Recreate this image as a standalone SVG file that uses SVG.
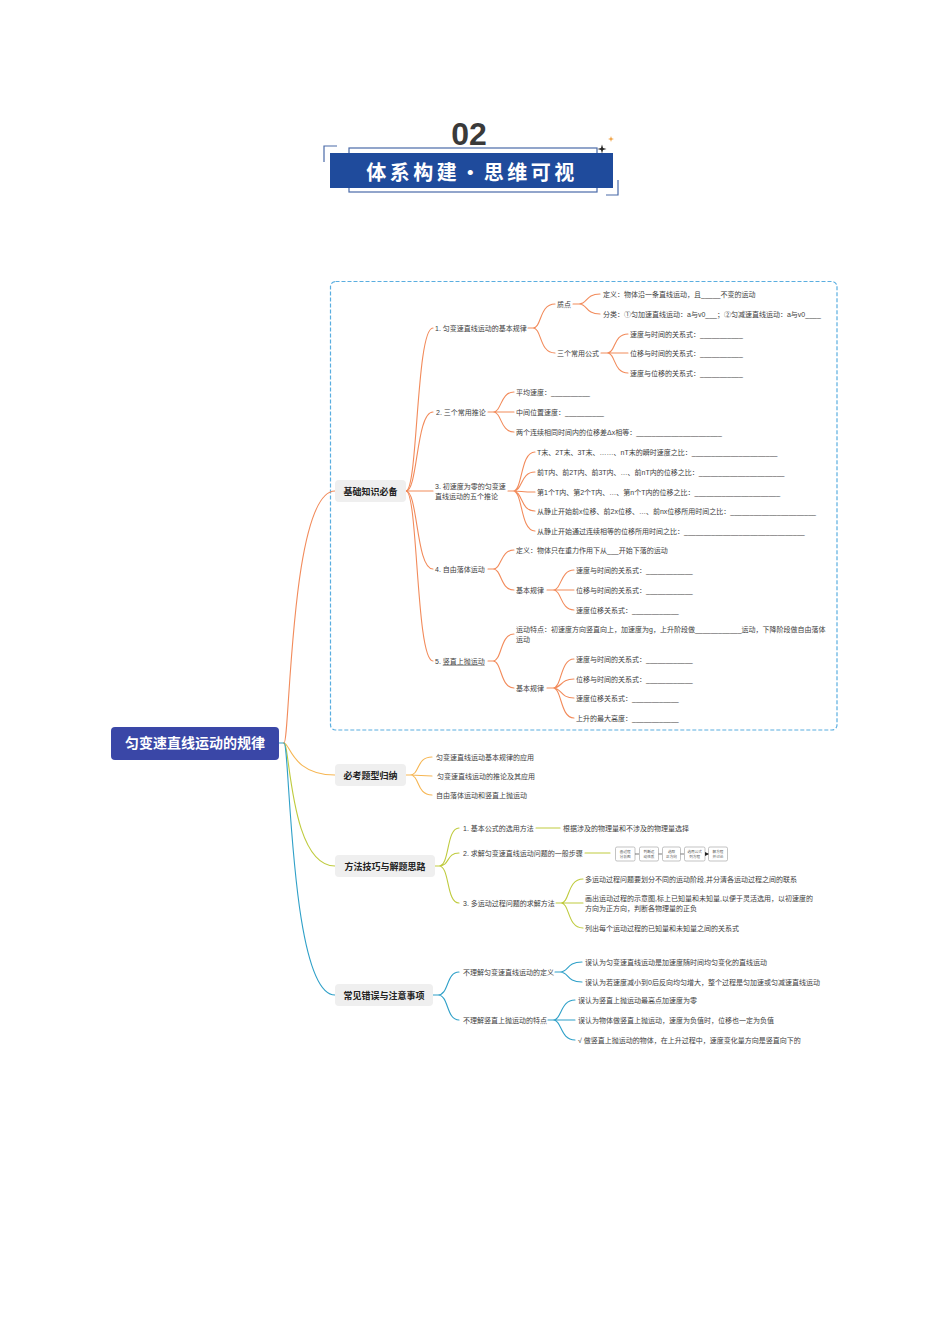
<svg xmlns="http://www.w3.org/2000/svg" width="950" height="1344" viewBox="0 0 950 1344">
<defs>
<style>
.t{font-family:'Liberation Sans','Noto Sans CJK SC',sans-serif;font-size:7px;fill:#3d3d3d}
.l1{font-family:'Liberation Sans','Noto Sans CJK SC',sans-serif;font-size:9px;font-weight:bold;fill:#222;text-anchor:middle}
.b1{fill:#efefef}
.c{fill:none;stroke-width:1.1;stroke-linecap:round}
.o{stroke:#f28b5b}
.y{stroke:#f6b653}
.g{stroke:#bfcb3e}
.b{stroke:#2fa0c8}
.sb{fill:#fff;stroke:#9a9a9a;stroke-width:0.6}
.st{font-family:'Noto Sans CJK SC',sans-serif;font-size:3.6px;fill:#555;text-anchor:middle}
.fr{fill:none;stroke:#4a6aa8;stroke-width:1.2}
</style>
<marker id="ah" markerWidth="4" markerHeight="4" refX="3" refY="2" orient="auto" markerUnits="userSpaceOnUse"><path d="M0,0 L4,2 L0,4 Z" fill="#222"/></marker>
</defs>
<rect width="950" height="1344" fill="#fff"/>

<g id="header">
<text x="469" y="145" font-family="'Liberation Sans',sans-serif" font-size="32" font-weight="bold" fill="#3a3a3a" text-anchor="middle">02</text>
<rect class="fr" x="349" y="148" width="248" height="44" stroke-width="1"/>
<rect x="330" y="153" width="283" height="35" fill="#1f4b9c"/>
<path class="fr" d="M324,162 L324,146 L337,146"/>
<path class="fr" d="M618,180 L618,195 L606,195"/>
<path d="M602,144.5 L603,148 L606.5,149 L603,150 L602,153.5 L601,150 L597.5,149 L601,148 Z" fill="#222"/>
<path d="M611,136 L611.7,138.3 L614,139 L611.7,139.7 L611,142 L610.3,139.7 L608,139 L610.3,138.3 Z" fill="#f0a040"/>
<text x="472" y="180" font-family="'Noto Sans CJK SC',sans-serif" font-size="20" font-weight="bold" fill="#fff" text-anchor="middle" letter-spacing="3.5">体系构建·思维可视</text>
</g>

<rect x="330.5" y="281.5" width="506.5" height="448.5" rx="5" fill="none" stroke="#5aaee0" stroke-width="1.2" stroke-dasharray="4 2"/>

<g id="connectors">
<path class="c b" d="M279,743 L284,743"/>
<path class="c o" d="M284,743 C290,743 290,491 335,491"/>
<path class="c y" d="M284,743 C290,743 292,775 335,775"/>
<path class="c g" d="M284,743 C290,743 290,866 335,866"/>
<path class="c b" d="M284,743 C290,743 290,995 335,995"/>

<path class="c o" d="M406,491 C418,491 416,328 433,328"/>
<path class="c o" d="M406,491 C418,491 416,412 433,412"/>
<path class="c o" d="M406,491 L433,491"/>
<path class="c o" d="M406,491 C418,491 416,569 433,569"/>
<path class="c o" d="M406,491 C418,491 416,661 433,661"/>

<path class="c o" d="M528,328 L533,328 C542,328 539,304 555,304 M533,328 C542,328 539,353 555,353"/>
<path class="c o" d="M573,304 L579,304 C588,304 585,294 600,294 M579,304 C588,304 585,314 600,314"/>
<path class="c o" d="M601,353 L607,353 C616,353 613,334 628,334 M607,353 L628,353 M607,353 C616,353 613,373 628,373"/>
<path class="c o" d="M488,412 L493,412 C502,412 500,392 514,392 M493,412 L514,412 M493,412 C502,412 500,432 514,432"/>
<path class="c o" d="M508,491 L513,491 C523,491 520,452 535,452 M513,491 C523,491 520,472 535,472 M513,491 C523,491 520,492 535,492 M513,491 C523,491 520,511 535,511 M513,491 C523,491 520,531 535,531"/>
<path class="c o" d="M488,569 L493,569 C502,569 500,550 514,550 M493,569 C502,569 500,590 514,590"/>
<path class="c o" d="M547,590 L553,590 C562,590 560,570 574,570 M553,590 L574,590 M553,590 C562,590 560,610 574,610"/>
<path class="c o" d="M488,661 L493,661 C502,661 500,634 514,634 M493,661 C502,661 500,688 514,688"/>
<path class="c o" d="M547,688 L553,688 C562,688 560,659 574,659 M553,688 C562,688 560,679 574,679 M553,688 C562,688 560,698 574,698 M553,688 C562,688 560,718 574,718"/>

<path class="c y" d="M406,775 L410,775 C420,775 416,757 432,757 M410,775 L432,776 M410,775 C420,775 416,795 432,795"/>

<path class="c g" d="M435,866 L439,866 C450,866 446,828 459,828 M439,866 C450,866 446,853 459,853 M439,866 C450,866 446,903 459,903"/>
<path class="c g" d="M536,828 L560,828 M585,853 L610,853"/>
<path class="c g" d="M556,903 L561,903 C570,903 567,879 583,879 M561,903 L583,903 M561,903 C570,903 567,928 583,928"/>

<path class="c b" d="M433,995 L438,995 C449,995 446,972 459,972 M438,995 C449,995 446,1020 459,1020"/>
<path class="c b" d="M555,972 L560,972 C569,972 566,962 582,962 M560,972 C569,972 566,982 582,982"/>
<path class="c b" d="M548,1020 L553,1020 C562,1020 560,1000 575,1000 M553,1020 L575,1020 M553,1020 C562,1020 560,1040 575,1040"/>
</g>

<g id="root">
<rect x="111" y="727" width="168" height="33" rx="4" fill="#3a47a7"/>
<text x="195" y="748" font-family="'Noto Sans CJK SC',sans-serif" font-size="14" font-weight="bold" fill="#fff" text-anchor="middle">匀变速直线运动的规律</text>
</g>

<g id="n-jichu">
<rect class="b1" x="335" y="480" width="71" height="22" rx="4"/>
<text class="l1" x="370.5" y="494.5">基础知识必备</text>
</g>
<g id="n-bikao">
<rect class="b1" x="335" y="764" width="71" height="22" rx="4"/>
<text class="l1" x="370.5" y="778.5">必考题型归纳</text>
</g>
<g id="n-fangfa">
<rect class="b1" x="335" y="855" width="100" height="22" rx="4"/>
<text class="l1" x="385" y="869.5">方法技巧与解题思路</text>
</g>
<g id="n-cuowu">
<rect class="b1" x="335" y="984" width="98" height="22" rx="4"/>
<text class="l1" x="384" y="998.5">常见错误与注意事项</text>
</g>

<g id="n-jiben">
<text class="t" x="435" y="330.5">1. 匀变速直线运动的基本规律</text>
<text class="t" x="557" y="306.5">质点</text>
<text class="t" x="603" y="296.5">定义：物体沿一条直线运动，且_____不变的运动</text>
<text class="t" x="603" y="316.5">分类：①匀加速直线运动：a与v0___；②匀减速直线运动：a与v0____</text>
<text class="t" x="557" y="355.5">三个常用公式</text>
<text class="t" x="630" y="336.5">速度与时间的关系式：___________</text>
<text class="t" x="630" y="355.5">位移与时间的关系式：___________</text>
<text class="t" x="630" y="375.5">速度与位移的关系式：___________</text>
</g>
<g id="n-tuilun">
<text class="t" x="436" y="414.5">2. 三个常用推论</text>
<text class="t" x="516" y="394.5">平均速度：__________</text>
<text class="t" x="516" y="414.5">中间位置速度：__________</text>
<text class="t" x="516" y="434.5">两个连续相同时间内的位移差Δx相等：______________________</text>
</g>
<g id="n-wuge">
<text class="t" x="435" y="488.5">3. 初速度为零的匀变速</text>
<text class="t" x="435" y="498.5">直线运动的五个推论</text>
<text class="t" x="537" y="454.5">T末、2T末、3T末、……、nT末的瞬时速度之比：______________________</text>
<text class="t" x="537" y="474.5">前T内、前2T内、前3T内、…、前nT内的位移之比：______________________</text>
<text class="t" x="537" y="494.5">第1个T内、第2个T内、…、第n个T内的位移之比：______________________</text>
<text class="t" x="537" y="513.5">从静止开始前x位移、前2x位移、…、前nx位移所用时间之比：______________________</text>
<text class="t" x="537" y="533.5">从静止开始通过连续相等的位移所用时间之比：_______________________________</text>
</g>
<g id="n-ziyou">
<text class="t" x="435" y="571.5">4. 自由落体运动</text>
<text class="t" x="516" y="552.5">定义：物体只在重力作用下从___开始下落的运动</text>
<text class="t" x="516" y="592.5">基本规律</text>
<text class="t" x="576" y="572.5">速度与时间的关系式：____________</text>
<text class="t" x="576" y="592.5">位移与时间的关系式：____________</text>
<text class="t" x="576" y="612.5">速度位移关系式：____________</text>
</g>
<g id="n-shangpao">
<text class="t" x="435" y="663.5">5. 竖直上抛运动</text>
<line x1="442.7" y1="665.5" x2="484.7" y2="665.5" stroke="#555" stroke-width="0.5"/>
<text class="t" x="516" y="631.5">运动特点：初速度方向竖直向上，加速度为g，上升阶段做____________运动，下降阶段做自由落体</text>
<text class="t" x="516" y="641.5">运动</text>
<text class="t" x="516" y="690.5">基本规律</text>
<text class="t" x="576" y="661.5">速度与时间的关系式：____________</text>
<text class="t" x="576" y="681.5">位移与时间的关系式：____________</text>
<text class="t" x="576" y="700.5">速度位移关系式：____________</text>
<text class="t" x="576" y="720.5">上升的最大高度：____________</text>
</g>

<g id="n-bikao-children">
<text class="t" x="436" y="759.5">匀变速直线运动基本规律的应用</text>
<text class="t" x="437" y="778.5">匀变速直线运动的推论及其应用</text>
<text class="t" x="436" y="797.5">自由落体运动和竖直上抛运动</text>
</g>

<g id="n-fangfa-children">
<text class="t" x="463" y="830.5">1. 基本公式的选用方法</text>
<text class="t" x="563" y="830.5">根据涉及的物理量和不涉及的物理量选择</text>
<text class="t" x="463" y="855.5">2. 求解匀变速直线运动问题的一般步骤</text>
<text class="t" x="463" y="905.5">3. 多运动过程问题的求解方法</text>
<text class="t" x="585" y="881.5">多运动过程问题要划分不同的运动阶段,并分清各运动过程之间的联系</text>
<text class="t" x="585" y="900.5">画出运动过程的示意图,标上已知量和未知量,以便于灵活选用，以初速度的</text>
<text class="t" x="585" y="910.5">方向为正方向，判断各物理量的正负</text>
<text class="t" x="585" y="930.5">列出每个运动过程的已知量和未知量之间的关系式</text>
</g>

<g id="n-steps">
<rect class="sb" x="615.5" y="847" width="19.5" height="14" rx="1.5"/>
<text class="st" x="625.2" y="852.8">画过程</text><text class="st" x="625.2" y="858">分析图</text>
<rect class="sb" x="639.5" y="847" width="19" height="14" rx="1.5"/>
<text class="st" x="649" y="852.8">判断运</text><text class="st" x="649" y="858">动性质</text>
<rect class="sb" x="662.5" y="847" width="18" height="14" rx="1.5"/>
<text class="st" x="671.5" y="852.8">选取</text><text class="st" x="671.5" y="858">正方向</text>
<rect class="sb" x="684.5" y="847" width="20.5" height="14" rx="1.5"/>
<text class="st" x="694.7" y="852.8">选用公式</text><text class="st" x="694.7" y="858">列方程</text>
<rect class="sb" x="708.5" y="847" width="19" height="14" rx="1.5"/>
<text class="st" x="718" y="852.8">解方程</text><text class="st" x="718" y="858">并讨论</text>
<path d="M635,854 L639,854 M658.5,854 L662,854 M680.5,854 L684,854 M705,854 L708,854" stroke="#222" stroke-width="0.6" marker-end="url(#ah)"/>
</g>

<g id="n-cuowu-children">
<text class="t" x="463" y="974.5">不理解匀变速直线运动的定义</text>
<text class="t" x="585" y="964.5">误认为匀变速直线运动是加速度随时间均匀变化的直线运动</text>
<text class="t" x="585" y="984.5">误认为若速度减小到0后反向均匀增大，整个过程是匀加速或匀减速直线运动</text>
<text class="t" x="463" y="1022.5">不理解竖直上抛运动的特点</text>
<text class="t" x="578" y="1002.5">误认为竖直上抛运动最高点加速度为零</text>
<text class="t" x="578" y="1022.5">误认为物体做竖直上抛运动，速度为负值时，位移也一定为负值</text>
<text class="t" x="578" y="1042.5">√ 做竖直上抛运动的物体，在上升过程中，速度变化量方向是竖直向下的</text>
</g>
</svg>
